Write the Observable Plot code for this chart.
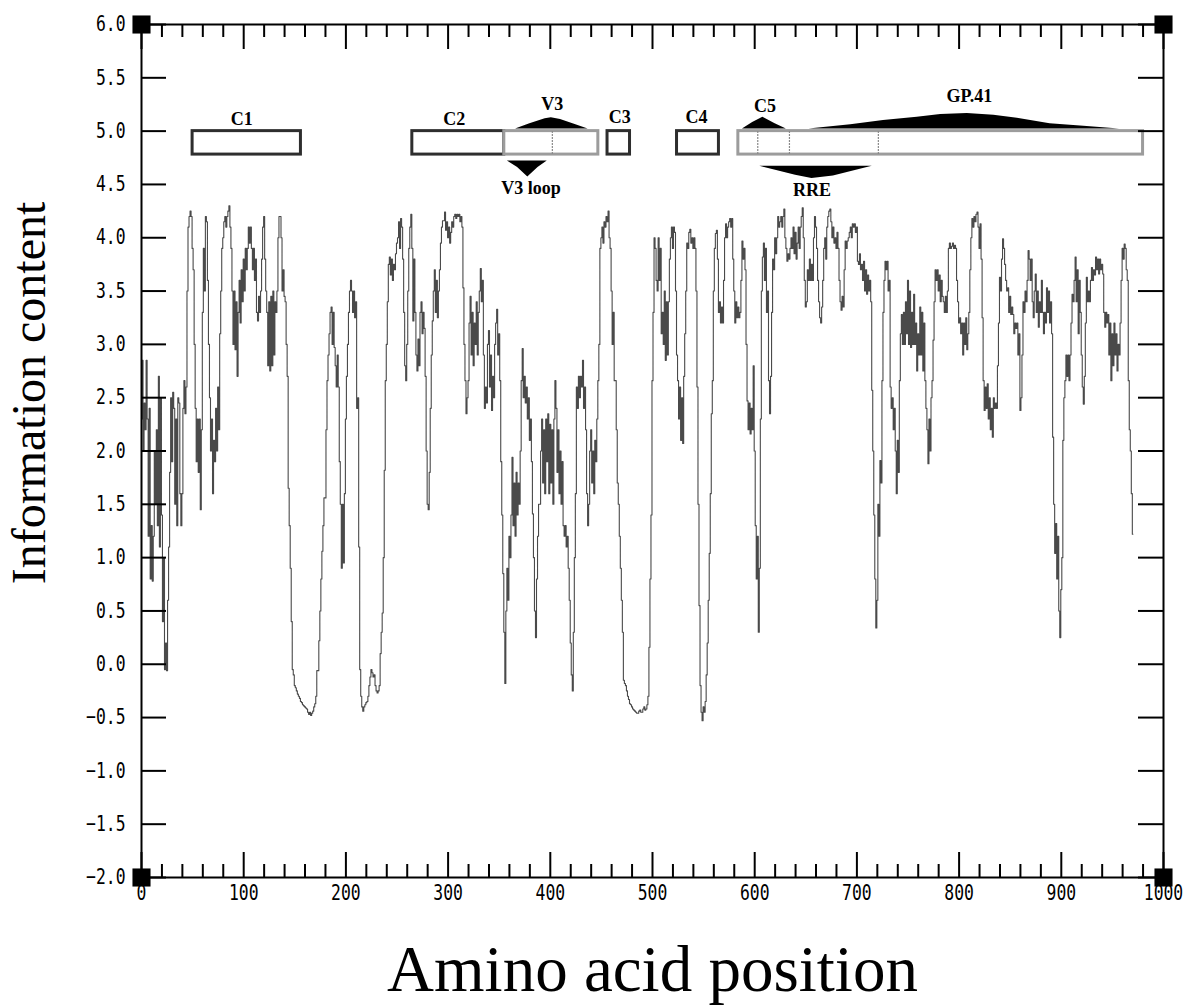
<!DOCTYPE html>
<html><head><meta charset="utf-8">
<script src="https://cdn.jsdelivr.net/npm/d3@7"></script>
<script src="https://cdn.jsdelivr.net/npm/@observablehq/plot@0.6"></script>
<style>html,body{margin:0;padding:0;background:#fff}#chart svg{display:block}</style>
</head><body><div id="chart"></div>
<script>
// Information content per amino acid position (chunks of 100 positions)
const info000 = [2.3,2.85,2.0,2.45,2.2,2.85,2.3,1.2,2.4,0.8,1.3,0.78,1.2,2.0,1.5,2.2,1.3,2.7,1.1,2.5,1.4,0.4,1.0,-0.05,0.2,-0.06,0.6,1.1,1.8,2.5,1.9,2.55,2.4,1.5,2.3,1.3,2.5,2.45,1.6,1.3,1.6,2.4,2.66,2.35,2.6,3.5,4.1,4.2,4.25,4.2,3.9,3.7,3.0,2.4,1.9,2.3,1.8,2.3,1.45,2.2,3.3,3.9,3.5,4.2,4.15,3.6,3.0,2.5,2.0,2.3,1.6,2.1,1.9,2.4,2.0,2.6,2.2,3.1,3.5,3.9,4.0,4.15,4.2,4.1,4.2,4.25,4.3,4.1,3.9,3.5,3.0,3.5,2.95,3.4,2.7,3.3,3.6,3.2,3.7,3.4];
const info100 = [3.8,3.5,3.9,3.7,3.9,4.1,3.95,4.1,3.9,3.7,3.9,3.6,3.8,3.3,3.22,3.45,3.3,3.5,3.8,4.1,4.2,3.8,3.5,3.3,2.8,3.4,2.75,3.45,2.8,3.5,2.9,3.4,3.3,3.5,4.0,4.2,4.2,4.0,3.5,3.7,3.45,3.4,3.0,2.7,1.65,1.3,0.9,0.4,-0.05,-0.1,-0.2,-0.22,-0.25,-0.28,-0.3,-0.32,-0.35,-0.36,-0.38,-0.39,-0.4,-0.41,-0.42,-0.45,-0.47,-0.45,-0.48,-0.46,-0.44,-0.4,-0.37,-0.3,-0.06,-0.06,0.22,0.5,0.8,1.06,1.3,1.56,1.56,2.2,2.66,2.9,3.1,3.3,3.35,3.0,3.3,2.97,2.8,2.6,2.9,2.6,1.9,1.5,0.9,1.5,0.95,1.6];
const info200 = [2.3,2.7,3.0,3.3,3.5,3.6,3.5,3.3,3.5,3.25,3.4,2.4,2.5,1.1,-0.05,-0.3,-0.4,-0.44,-0.4,-0.38,-0.36,-0.35,-0.3,-0.2,-0.12,-0.05,-0.08,-0.12,-0.1,-0.2,-0.25,-0.27,-0.25,-0.2,0.1,0.3,0.48,1.0,1.82,2.66,3.0,3.4,3.75,3.82,3.65,3.8,3.6,3.75,3.7,3.85,3.95,4.0,4.15,3.9,4.18,4.1,3.8,3.3,2.8,2.66,3.0,3.5,3.9,4.1,4.22,3.9,3.22,3.8,3.3,2.9,2.75,3.05,2.8,3.3,3.4,3.1,3.3,3.15,2.7,2.0,1.5,1.45,1.8,2.4,2.9,3.22,3.5,3.7,3.3,3.6,3.25,3.5,3.7,3.95,4.1,4.16,4.16,4.24,4.07,4.15];
const info300 = [4.0,4.1,3.95,4.05,4.15,4.1,4.2,4.22,4.18,4.22,4.2,4.22,4.15,4.2,4.1,3.53,3.0,2.66,2.35,2.5,2.66,3.2,3.45,2.9,3.3,2.8,3.2,3.0,3.4,2.9,3.3,3.5,3.71,3.4,3.6,2.9,2.4,2.6,2.45,3.0,3.13,2.6,2.9,2.38,2.7,2.5,3.0,3.2,3.33,2.9,3.1,2.66,1.9,1.4,0.85,0.3,-0.18,0.5,0.9,0.6,1.2,1.0,1.4,1.94,1.3,1.7,1.2,1.8,1.4,1.7,1.5,2.0,2.66,2.96,2.5,2.7,2.45,2.6,2.3,2.5,2.1,2.3,1.9,1.41,1.0,0.5,0.25,0.8,1.2,1.5,1.5,2.0,2.3,1.7,2.2,1.6,2.3,1.9,2.35,1.6];
const info400 = [2.25,1.7,2.2,1.5,2.3,2.66,2.4,1.8,2.2,1.6,2.0,1.5,1.9,1.3,1.2,1.3,1.1,1.2,0.9,0.6,0.2,-0.1,-0.25,0.3,1.0,1.6,2.6,2.4,2.7,2.5,2.7,2.6,2.85,2.4,2.6,2.2,1.6,1.3,1.5,2.0,2.2,1.7,2.0,1.6,2.1,1.9,2.3,2.66,3.0,3.9,4.0,4.1,3.95,4.15,4.1,4.2,4.15,4.25,4.0,3.9,3.5,3.0,3.3,2.66,2.66,2.2,1.7,1.5,1.2,0.9,0.6,0.3,-0.15,-0.18,-0.2,-0.25,-0.3,-0.33,-0.37,-0.38,-0.4,-0.42,-0.43,-0.44,-0.45,-0.46,-0.46,-0.44,-0.43,-0.45,-0.45,-0.42,-0.4,-0.43,-0.42,-0.38,-0.3,0.16,0.8,1.4];
const info500 = [2.66,3.3,4.0,3.9,3.6,3.5,4.0,3.6,3.9,3.1,3.3,3.0,3.5,2.85,3.4,2.9,3.4,3.8,4.0,4.1,3.9,4.1,4.05,3.5,2.9,2.66,2.3,2.6,2.1,2.5,2.07,2.7,3.1,3.5,3.95,3.9,4.05,4.08,3.95,4.0,3.9,4.0,3.9,3.5,2.6,1.5,0.55,-0.2,-0.45,-0.53,-0.4,-0.45,-0.35,-0.1,0.2,0.6,1.04,1.6,2.35,2.66,3.5,3.9,4.04,4.07,3.8,3.3,3.4,3.2,3.35,3.2,3.6,4.0,4.13,4.0,4.1,4.15,4.18,4.1,4.18,3.8,3.5,3.2,3.4,3.25,3.35,3.25,3.3,3.6,3.97,3.8,3.9,3.7,3.0,2.47,2.2,2.45,2.16,2.4,2.2,2.8];
const info600 = [2.0,1.3,0.8,1.2,0.3,0.9,2.3,3.5,3.82,3.95,3.6,3.9,3.3,3.5,2.66,2.35,2.7,3.3,3.8,3.7,4.0,3.85,4.0,4.2,4.1,4.15,4.2,4.1,4.2,4.27,4.0,3.9,3.78,3.85,3.8,3.9,4.0,3.9,4.1,3.85,4.05,3.8,3.95,4.1,3.9,4.1,4.2,4.28,4.0,3.6,3.35,3.4,3.7,3.6,3.8,3.6,3.75,3.6,4.0,4.2,4.1,3.9,3.6,3.4,3.25,3.2,3.35,3.6,3.9,4.0,3.8,4.1,4.2,4.25,4.27,4.15,4.0,4.1,3.95,4.0,3.9,4.05,3.9,3.6,3.4,3.32,3.45,3.35,3.7,3.97,3.9,3.97,4.0,4.05,4.1,4.0,4.13,4.1,4.13,4.05];
const info700 = [4.1,3.78,3.75,3.85,3.7,3.75,3.6,3.78,3.5,3.7,3.47,3.65,3.5,3.6,3.4,2.57,2.0,1.4,0.8,0.34,0.6,1.5,1.2,1.91,1.7,2.66,3.3,3.6,3.78,3.7,3.78,3.5,3.6,2.6,2.4,2.5,2.2,2.4,2.0,1.6,2.1,1.8,2.66,3.1,3.28,3.0,3.3,3.0,3.4,3.1,3.6,3.0,3.5,2.97,3.3,3.0,3.47,3.0,3.2,2.75,3.1,2.9,3.35,2.9,3.3,2.75,3.2,2.66,2.4,2.2,1.88,2.3,2.0,2.5,2.66,3.04,3.4,3.7,3.6,3.7,3.5,3.65,3.4,3.6,3.45,3.4,3.3,3.45,3.3,3.5,3.9,3.95,3.9,3.92,3.95,3.9,3.93,3.9,3.6,3.4];
const info800 = [3.2,3.25,3.1,3.2,2.9,3.2,3.0,3.25,2.95,3.1,3.3,3.7,4.0,4.18,4.1,4.2,4.15,4.22,4.24,4.1,3.9,4.13,3.8,3.25,2.66,2.38,2.6,2.4,2.63,2.3,2.5,2.2,2.4,2.13,2.5,2.4,2.45,2.4,2.8,3.2,3.63,3.5,3.8,3.99,3.9,3.75,3.6,3.5,3.53,3.3,3.45,3.28,3.35,3.28,3.1,3.2,3.15,3.2,2.9,3.1,2.38,2.5,2.9,3.4,3.3,3.5,3.4,3.6,3.88,3.8,3.6,3.8,3.4,3.25,3.5,3.66,3.3,3.5,3.16,3.4,3.3,3.6,3.3,3.1,3.3,3.2,3.53,3.3,3.5,3.2,3.4,3.1,2.13,1.5,1.04,1.32,0.8,1.2,0.5,0.25];
const info900 = [0.7,1.0,2.1,2.5,2.66,2.9,2.7,2.9,2.66,2.9,3.2,3.47,3.4,3.6,3.82,3.4,3.7,3.1,3.6,3.3,2.9,2.6,2.44,2.7,3.2,3.63,3.4,3.5,3.4,3.6,3.72,3.6,3.7,3.65,3.82,3.7,3.8,3.66,3.8,3.7,3.75,3.66,3.3,3.16,3.3,3.2,3.28,2.9,3.2,2.66,3.1,2.8,3.2,2.9,3.1,2.75,3.0,2.9,3.2,3.6,3.9,3.8,3.94,3.9,3.7,3.6,2.66,2.2,2.0,1.6,1.22];
const chunkStarts = [0,100,200,300,400,500,600,700,800,900];
const chunkValues = [info000,info100,info200,info300,info400,info500,info600,info700,info800,info900];

// Gene region boxes
const boxStart = [50, 265, 355, 456, 524, 584];
const boxEnd   = [156, 355, 447, 478, 565, 980];
const boxKind  = ["solid","solid","shaded","solid","solid","shaded"];
const boxLow = 4.78, boxHigh = 5.0;
const dividers = [402, 603, 634, 721];

// Region labels
const labelText = ["C1","C2","V3","C3","C4","C5","GP.41","V3 loop","RRE"];
const labelX    = [98, 306, 402, 468, 543, 610, 810, 381, 656];
const labelY    = [5.11, 5.11, 5.25, 5.13, 5.13, 5.23, 5.33, 4.46, 4.45];

// Triangle / hump markers
const v3UpX = [366, 380, 395, 401, 410, 425, 437];
const v3UpY = [5.02, 5.07, 5.115, 5.125, 5.11, 5.06, 5.02];
const v3LoopX = [358, 368, 378, 388, 397];
const v3LoopY = [4.72, 4.66, 4.57, 4.66, 4.72];
const c5UpX = [588, 598, 608, 620, 631];
const c5UpY = [5.02, 5.08, 5.13, 5.07, 5.02];
const rreX = [605, 640, 656, 677, 715];
const rreY = [4.67, 4.585, 4.555, 4.58, 4.67];
const gp41X = [653, 694, 726, 759, 782, 808, 834, 857, 889, 922, 957];
const gp41Y = [5.02, 5.06, 5.1, 5.13, 5.155, 5.165, 5.15, 5.12, 5.07, 5.045, 5.02];

const xMajor = [0,100,200,300,400,500,600,700,800,900,1000];
const xMinor = d3.range(20, 1000, 20).filter(v => v % 100 !== 0);
const yTicks = [-2,-1.5,-1,-0.5,0,0.5,1,1.5,2,2.5,3,3.5,4,4.5,5,5.5,6];

const profile = chunkStarts.flatMap((s, k) => chunkValues[k].map((v, i) => ({position: s + i, info: v})));
const boxes = boxStart.map((s, i) => ({x1: s, x2: boxEnd[i], kind: boxKind[i]}));
const labels = labelText.map((t, i) => ({text: t, x: labelX[i], y: labelY[i]}));
const pts = (xs, ys) => xs.map((x, i) => ({x, y: ys[i]}));

const W = 1198, H = 1006, mL = 141, mR = 35, mT = 24, mB = 129;
const fw = W - mL - mR, fh = H - mT - mB;
const serif = "Liberation Serif, Times New Roman, serif";
const tickFont = "DejaVu Sans Mono, monospace";

const chart = Plot.plot({
  width: W, height: H,
  marginLeft: mL, marginRight: mR, marginTop: mT, marginBottom: mB,
  style: {background: "#fff", color: "#000"},
  x: {domain: [0, 1000]},
  y: {domain: [-2, 6]},
  marks: [
    Plot.line(profile, {x: "position", y: "info", stroke: "#4a4a4a", strokeWidth: 1.1, curve: "step"}),
    Plot.rect(boxes, {x1: "x1", x2: "x2", y1: boxLow, y2: boxHigh, fill: "#fff",
      stroke: d => d.kind === "solid" ? "#2e2e2e" : "#9c9c9c", strokeWidth: 3}),
    Plot.ruleX(dividers, {y1: boxLow, y2: boxHigh, stroke: "#8a8a8a", strokeWidth: 1.2, strokeDasharray: "2,1"}),
    Plot.areaY(pts(v3UpX, v3UpY), {x: "x", y1: 5.02, y2: "y", fill: "#000"}),
    Plot.areaY(pts(v3LoopX, v3LoopY), {x: "x", y1: 4.72, y2: "y", fill: "#000"}),
    Plot.areaY(pts(c5UpX, c5UpY), {x: "x", y1: 5.02, y2: "y", fill: "#000"}),
    Plot.areaY(pts(rreX, rreY), {x: "x", y1: 4.67, y2: "y", fill: "#000"}),
    Plot.areaY(pts(gp41X, gp41Y), {x: "x", y1: 5.02, y2: "y", fill: "#000"}),
    Plot.text(labels, {x: "x", y: "y", text: "text", fontFamily: serif, fontWeight: "bold", fontSize: 18, fill: "#000"}),
    Plot.frame({stroke: "#000", strokeWidth: 2}),
    Plot.tickX(xMajor, {x: d => d, insetTop: fh - 25, stroke: "#000", strokeWidth: 2}),
    Plot.tickX(xMinor, {x: d => d, insetTop: fh - 13, stroke: "#000", strokeWidth: 2}),
    Plot.tickX(xMajor, {x: d => d, insetBottom: fh - 25, stroke: "#000", strokeWidth: 2}),
    Plot.tickX(xMinor, {x: d => d, insetBottom: fh - 13, stroke: "#000", strokeWidth: 2}),
    Plot.tickY(yTicks, {y: d => d, insetRight: fw - 25, stroke: "#000", strokeWidth: 2}),
    Plot.tickY(yTicks, {y: d => d, insetLeft: fw - 25, stroke: "#000", strokeWidth: 2}),
    Plot.dot([[0, -2], [0, 6], [1000, -2], [1000, 6]], {x: d => d[0], y: d => d[1], symbol: "square", r: 10.2, fill: "#000", stroke: null}),
    Plot.axisX(xMajor, {tickSize: 0, tickPadding: 8, fontSize: 21, fontFamily: tickFont, label: null, tickFormat: d => String(d)}),
    Plot.axisY(yTicks, {tickSize: 0, tickPadding: 16, fontSize: 21, fontFamily: tickFont, label: null, tickFormat: d3.format(".1f")}),
    Plot.text(["Amino acid position"], {frameAnchor: "bottom", textAnchor: "middle", dy: 113, fontSize: 65, fontFamily: serif, fill: "#000"}),
    Plot.text(["Information content"], {frameAnchor: "left", textAnchor: "middle", rotate: -90, dx: -112, dy: -58, fontSize: 48, fontFamily: serif, fill: "#000"})
  ]
});
document.getElementById("chart").appendChild(chart);
// narrow the tick-label glyphs horizontally (tall, narrow look of the original's bitmap font)
chart.querySelectorAll('g[aria-label="x-axis tick label"] text, g[aria-label="y-axis tick label"] text').forEach(t => {
  const w = t.getComputedTextLength();
  if (w > 0) { t.setAttribute("textLength", (w * 0.78).toFixed(2)); t.setAttribute("lengthAdjust", "spacingAndGlyphs"); }
});
</script>
</body></html>
